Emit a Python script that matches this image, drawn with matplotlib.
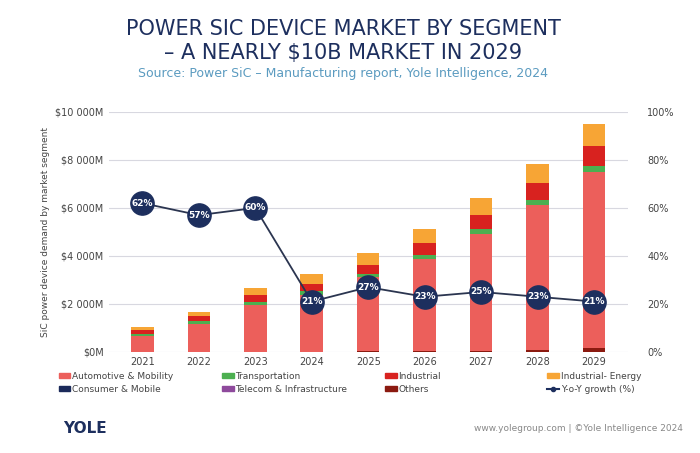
import numpy as np
import matplotlib.pyplot as plt
from matplotlib.ticker import FuncFormatter
from matplotlib.lines import Line2D
from matplotlib.patches import Patch

years = ["2021", "2022", "2023", "2024", "2025", "2026", "2027", "2028", "2029"]
# values in $M
others = [10, 10, 15, 20, 30, 40, 50, 100, 150]
telecom = [0, 0, 0, 0, 0, 0, 0, 0, 0]
consumer = [0, 0, 0, 0, 0, 0, 0, 0, 0]
automotive = [640, 1160, 1955, 2370, 3080, 3835, 4880, 6025, 7360]
transportation = [100, 110, 110, 140, 140, 165, 195, 225, 250]
industrial = [150, 230, 310, 320, 390, 490, 565, 690, 810]
industrial_energy = [140, 160, 290, 400, 500, 580, 710, 790, 930]
growth = [62, 57, 60, 21, 27, 23, 25, 23, 21]

c_auto = "#ec5f5b"
c_trans = "#4caf50"
c_ind = "#d8221f"
c_energy = "#f7a535"
c_cons = "#1b2a5a"
c_tel = "#8e4a9c"
c_oth = "#8b1a10"
navy = "#1d2f5e"

fig = plt.figure(figsize=(7, 4.53), dpi=100)
ax = fig.add_axes([0.155, 0.223, 0.742, 0.53])
x = np.arange(len(years))
w = 0.4
bottom = np.zeros(len(years))
for vals, col in [(others, c_oth), (telecom, c_tel), (consumer, c_cons), (automotive, c_auto),
                  (transportation, c_trans), (industrial, c_ind), (industrial_energy, c_energy)]:
    ax.bar(x, vals, w, bottom=bottom, color=col, zorder=2)
    bottom += np.array(vals)

ax.set_ylim(0, 10000)
ax.set_yticks(range(0, 10001, 2000))
ax.yaxis.set_major_formatter(FuncFormatter(lambda v, p: "$0M" if v == 0 else f"${int(v):,}M".replace(",", " ")))
ax.set_xlim(-0.6, 8.6)
ax.set_xticks(x)
ax.set_xticklabels(years)
ax.grid(axis="y", color="#d8d8e0", lw=0.8, zorder=0)
for s in ax.spines.values():
    s.set_visible(False)
ax.tick_params(length=0, labelsize=7, colors="#444444")
ax.set_ylabel("SiC power device demand by market segment", fontsize=6.5, color="#444444")

ax2 = ax.twinx()
ax2.set_ylim(0, 100)
ax2.set_yticks(range(0, 101, 20))
ax2.yaxis.set_major_formatter(FuncFormatter(lambda v, p: f"{int(v)}%"))
for s in ax2.spines.values():
    s.set_visible(False)
ax2.tick_params(length=0, labelsize=7, colors="#444444", pad=14)
ax2.plot(x, growth, color="#2b3550", lw=1.3, zorder=3)
ax2.scatter(x, growth, s=280, color=navy, zorder=4)
for xi, g in zip(x, growth):
    ax2.text(xi, g, f"{g}%", ha="center", va="center", color="white", fontsize=6.5, fontweight="bold", zorder=5)

fig.text(0.49, 0.935, "POWER SIC DEVICE MARKET BY SEGMENT", ha="center", va="center", fontsize=15, color="#1d2f5e")
fig.text(0.49, 0.882, "– A NEARLY $10B MARKET IN 2029", ha="center", va="center", fontsize=15, color="#1d2f5e")
fig.text(0.49, 0.838, "Source: Power SiC – Manufacturing report, Yole Intelligence, 2024", ha="center", va="center",
         fontsize=9, color="#5b9bc0")

# legend: four columns placed by hand
cols = [
    ([Patch(color=c_auto), Patch(color=c_cons)], ["Automotive & Mobility", "Consumer & Mobile"], 0.08),
    ([Patch(color=c_trans), Patch(color=c_tel)], ["Transportation", "Telecom & Infrastructure"], 0.313),
    ([Patch(color=c_ind), Patch(color=c_oth)], ["Industrial", "Others"], 0.546),
    ([Patch(color=c_energy), Line2D([0], [0], color=navy, marker="o", markersize=3)],
     ["Industrial- Energy", "Y-o-Y growth (%)"], 0.778),
]
for hs, ls, x0 in cols:
    fig.legend(hs, ls, loc="upper left", bbox_to_anchor=(x0, 0.185), frameon=False, fontsize=6.5,
               handlelength=1.3, handleheight=0.5, handletextpad=0.2, labelspacing=0.4,
               labelcolor="#444444", borderaxespad=0, borderpad=0.3)

fig.text(0.09, 0.055, "YOLE", fontsize=11, fontweight="bold", color="#1d2f5e", va="center")
fig.text(0.975, 0.055, "www.yolegroup.com | ©Yole Intelligence 2024", fontsize=6.5, color="#888888", ha="right", va="center")

fig.savefig("out.png", dpi=100, facecolor="white")
